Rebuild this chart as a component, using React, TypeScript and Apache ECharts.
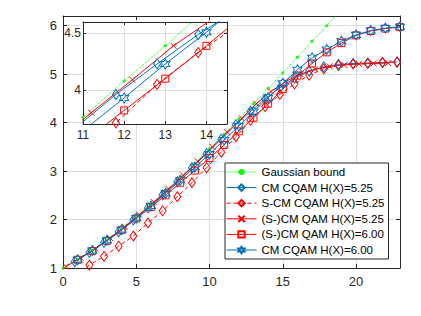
import React, { useEffect, useRef } from 'react';
import * as echarts from 'echarts';

// ---- data (SNR in dB vs. rate in bits) ----
const gaussX = [0, 1, 2, 3, 4, 5, 6, 7, 8, 9, 10, 11, 12, 13, 14, 15, 16, 17, 18, 19];
const gaussY = [1.0, 1.18, 1.37, 1.58, 1.81, 2.06, 2.32, 2.59, 2.87, 3.16, 3.46, 3.76, 4.08, 4.39, 4.71, 5.03, 5.35, 5.68, 6.0, 6.33];

const diamondX = [0.8, 1.8, 2.8, 3.8, 4.8, 5.8, 6.8, 7.8, 8.8, 9.8, 10.8, 11.8, 12.8, 13.8, 14.8, 15.8, 16.8, 17.8, 18.8, 19.8, 20.8, 21.8, 22.8];
const cmCqam525 = [1.13, 1.32, 1.53, 1.75, 1.99, 2.24, 2.51, 2.78, 3.07, 3.36, 3.66, 3.96, 4.23, 4.49, 4.72, 4.92, 5.06, 5.15, 5.2, 5.22, 5.23, 5.24, 5.25];
const scmCqam525 = [0.86, 1.06, 1.24, 1.45, 1.66, 1.93, 2.18, 2.47, 2.76, 3.07, 3.39, 3.71, 4.05, 4.33, 4.58, 4.8, 4.98, 5.11, 5.18, 5.21, 5.22, 5.24, 5.25];

const crossX = [0.2, 1.2, 2.2, 3.2, 4.2, 5.2, 6.2, 7.2, 8.2, 9.2, 10.2, 11.2, 12.2, 13.2, 14.2, 15.2, 16.2, 17.2, 18.2, 19.2, 20.2, 21.2, 22.2];
const qam525 = [1.03, 1.21, 1.4, 1.62, 1.85, 2.1, 2.36, 2.63, 2.91, 3.2, 3.5, 3.8, 4.09, 4.39, 4.64, 4.85, 5.0, 5.1, 5.16, 5.19, 5.21, 5.22, 5.23];

const intX = [1, 2, 3, 4, 5, 6, 7, 8, 9, 10, 11, 12, 13, 14, 15, 16, 17, 18, 19, 20, 21, 22, 23];
const qam600 = [1.17, 1.35, 1.56, 1.78, 2.02, 2.26, 2.5, 2.76, 3.01, 3.27, 3.54, 3.82, 4.1, 4.39, 4.69, 4.97, 5.22, 5.45, 5.64, 5.8, 5.89, 5.94, 5.97];
const cmCqam600 = [1.17, 1.36, 1.57, 1.79, 2.03, 2.28, 2.54, 2.81, 3.08, 3.35, 3.64, 3.93, 4.23, 4.51, 4.81, 5.09, 5.34, 5.51, 5.68, 5.81, 5.9, 5.95, 5.98];

const legendNames = [
  'Gaussian bound',
  'CM CQAM H(X)=5.25',
  'S-CM CQAM H(X)=5.25',
  '(S-)CM QAM H(X)=5.25',
  '(S-)CM QAM H(X)=6.00',
  'CM CQAM H(X)=6.00',
];

const BLUE = '#0072BD';
const RED = '#FF0000';
const GREEN = '#00FF00';
const INK = '#262626';
const FONT = 'Liberation Sans, Arial, sans-serif';
const STAR = 'path://M10 0 L12.89 5 L18.66 5 L15.77 10 L18.66 15 L12.89 15 L10 20 L7.11 15 L1.34 15 L4.23 10 L1.34 5 L7.11 5 Z';
const CROSS = 'path://M0 0 L10 10 M10 0 L0 10';

const pairs = (xs: number[], ys: number[]) => xs.map((x, i) => [x, ys[i]]);

const defs = [
  { name: legendNames[0], data: pairs(gaussX, gaussY), color: GREEN, symbol: 'circle', size: 3, dash: 'dotted', fill: GREEN, bw: 0 },
  { name: legendNames[1], data: pairs(diamondX, cmCqam525), color: BLUE, symbol: 'diamond', size: [7, 10], dash: 'solid', fill: 'transparent', bw: 1 },
  { name: legendNames[2], data: pairs(diamondX, scmCqam525), color: RED, symbol: 'diamond', size: [7, 10], dash: [4, 3], fill: 'transparent', bw: 1 },
  { name: legendNames[3], data: pairs(crossX, qam525), color: RED, symbol: CROSS, size: 6, dash: 'solid', fill: 'transparent', bw: 1 },
  { name: legendNames[4], data: pairs(intX, qam600), color: RED, symbol: 'rect', size: 7, dash: 'solid', fill: 'transparent', bw: 1 },
  { name: legendNames[5], data: pairs(intX, cmCqam600), color: BLUE, symbol: STAR, size: [9, 10], dash: 'solid', fill: 'transparent', bw: 1 },
];

function makeSeries(axisIdx: number, z: number) {
  return defs.map((d) => ({
    type: 'line',
    name: d.name,
    xAxisIndex: axisIdx,
    yAxisIndex: axisIdx,
    data: d.data,
    z,
    clip: true,
    symbol: d.symbol,
    symbolSize: d.size,
    showAllSymbol: true,
    lineStyle: { color: d.color, width: 1, type: d.dash },
    itemStyle: { color: d.fill, borderColor: d.color, borderWidth: d.bw },
    emphasis: { disabled: true },
  }));
}

const xAxis = (grid: number, pos: string, min: number, max: number, interval: number, labels: boolean, split: boolean, fontSize: number, margin: number, z: number, tickLen: number) => ({
  type: 'value',
  gridIndex: grid,
  position: pos,
  min,
  max,
  interval,
  z,
  axisLine: { show: true, onZero: false, lineStyle: { color: INK, width: 1 } },
  axisTick: { show: true, inside: true, length: tickLen, lineStyle: { color: INK } },
  axisLabel: {
    show: labels,
    color: INK,
    fontSize,
    fontFamily: FONT,
    margin,
    formatter: (v: number) => (Math.abs(v / interval - Math.round(v / interval)) < 1e-6 ? String(v) : ''),
  },
  splitLine: { show: split, lineStyle: { color: '#dedede', width: 1 } },
});

export default function App() {
  const ref = useRef<HTMLDivElement>(null);
  useEffect(() => {
    if (!ref.current) return;
    const chart = echarts.init(ref.current, undefined, { renderer: 'svg' });
    const option: any = {
      animation: false,
      backgroundColor: '#fff',
      grid: [
        { left: 63, top: 16, width: 337, height: 252, show: false },
        { left: 83, top: 22, width: 144, height: 102, show: true, backgroundColor: '#fff', borderWidth: 0, z: 10 },
      ],
      xAxis: [
        xAxis(0, 'bottom', 0, 23, 5, true, true, 13, 7, 0, 4),
        xAxis(0, 'top', 0, 23, 5, false, false, 13, 7, 0, 4),
        xAxis(1, 'bottom', 11, 14.5, 1, true, true, 12, 5, 11, 3),
        xAxis(1, 'top', 11, 14.5, 1, false, false, 12, 5, 11, 3),
      ],
      yAxis: [
        xAxis(0, 'left', 1, 6.2, 1, true, true, 13, 6, 0, 4),
        xAxis(0, 'right', 1, 6.2, 1, false, false, 13, 6, 0, 4),
        {
          type: 'value', gridIndex: 1, position: 'left', min: 3.7, max: 4.6, splitNumber: 2, minInterval: 0.5, maxInterval: 0.5, z: 11,
          axisLine: { show: true, onZero: false, lineStyle: { color: INK, width: 1 } },
          axisTick: { show: true, inside: true, length: 3, lineStyle: { color: INK } },
          axisLabel: {
            color: INK, fontSize: 12, fontFamily: FONT, margin: 2,
            formatter: (v: number) => (Math.abs(v - 4) < 1e-6 ? '4' : Math.abs(v - 4.5) < 1e-6 ? '4.5' : ''),
          },
          splitLine: { show: true, lineStyle: { color: '#dedede', width: 1 } },
        },
        {
          type: 'value', gridIndex: 1, position: 'right', min: 3.7, max: 4.6, splitNumber: 2, minInterval: 0.5, maxInterval: 0.5, z: 11,
          axisLine: { show: true, onZero: false, lineStyle: { color: INK, width: 1 } },
          axisTick: { show: true, inside: true, length: 3, lineStyle: { color: INK } },
          axisLabel: { show: false },
          splitLine: { show: false },
        },
      ],
      legend: {
        data: legendNames,
        orient: 'vertical',
        left: 225,
        top: 163,
        backgroundColor: '#fff',
        borderColor: INK,
        borderWidth: 1,
        borderRadius: 0,
        padding: [3, 4, 3, 1],
        itemWidth: 30,
        itemHeight: 8,
        itemGap: 3.6,
        selectedMode: false,
        lineStyle: { width: 1 },
        textStyle: { fontSize: 11.5, color: '#000', fontFamily: FONT },
      },
      series: [...makeSeries(0, 2), ...makeSeries(2, 12)],
    };
    chart.setOption(option);
    return () => chart.dispose();
  }, []);
  return <div ref={ref} style={{ position: 'fixed', left: 0, top: 0, width: 421, height: 316 }} />;
}
